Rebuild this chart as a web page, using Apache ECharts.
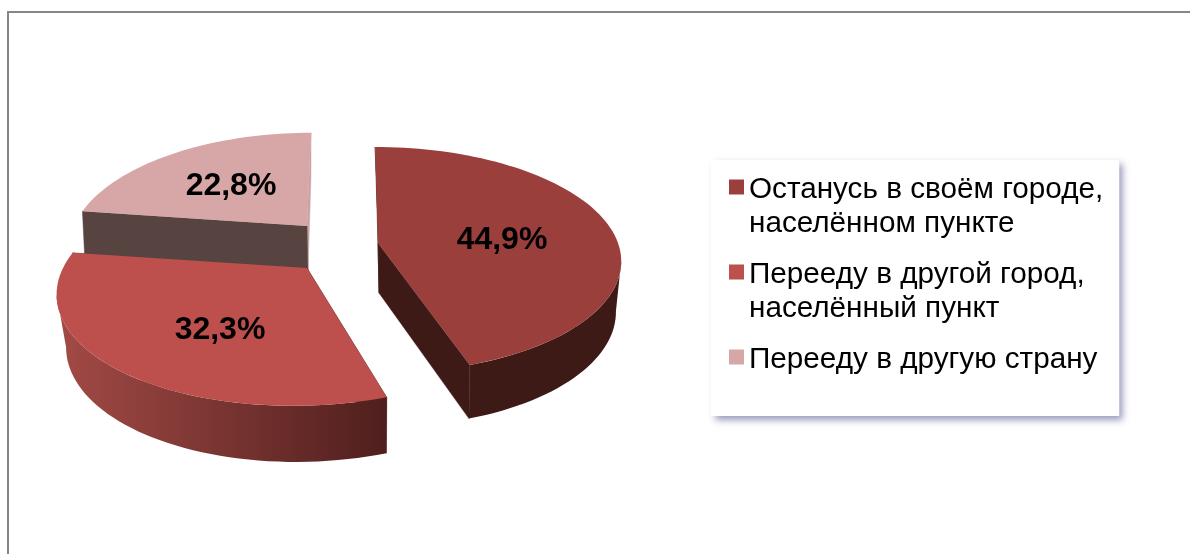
<!DOCTYPE html>
<html>
<head>
<meta charset="utf-8">
<style>html,body{margin:0;padding:0;background:#fff}#chart{width:1190px;height:554px}</style>
<script src="https://cdn.jsdelivr.net/npm/echarts@6/dist/echarts.min.js"></script>
</head>
<body>
<div id="chart"></div>
<script>
// данные
const categories = [
  'Останусь в своём городе,\nнаселённом пункте',
  'Перееду в другой город,\nнаселённый пункт',
  'Перееду в другую страну'
];
const shares = [44.9, 32.3, 22.8];

// цвета срезов
const topColors = ['#9b3f3d', '#bd4f4c', '#d7a7a7'];
const startCutColors = ['#3e1a17', '#4f1f1d', '#574441'];
const endCutColors = ['#3e1a17', '#574441', '#c9a3a2'];
const sideColors = [['#3e1a17', '#3e1a17'], ['#a34a46', '#4f1f1d'], ['#574441', '#574441']];

// раскладка: вершина среза, эллипс, перспектива, толщина, сдвиг подписи
const sliceLayout = [
  { cx: 378, cy: 243, a: 240, b: 110.3, k: 0.149, skew: 0.03, depth: 50, shrink: 0.97, lowDx: 2, labelDx: 124, labelDy: -3 },
  { cx: 307, cy: 268, a: 244, b: 113, k: 0.18, skew: -0.1, depth: 52, shrink: 0.97, lowDx: 2, labelDx: -87, labelDy: 62 },
  { cx: 307, cy: 226, a: 233, b: 110, k: 0.18, skew: -0.043, depth: 46, shrink: 0.99, lowDx: 0, labelDx: -76, labelDy: -40 }
];

const total = shares.reduce((a, b) => a + b, 0);
const toRad = Math.PI / 180;

function project(l, deg, lower) {
  const u = Math.sin(deg * toRad), v = Math.cos(deg * toRad);
  const s = 1 / (1 + l.k * v);
  let x = l.a * u * s, y = -l.b * v * s;
  x += l.skew * y;
  if (lower) { x = x * l.shrink + l.lowDx; y = y * 1.03 + l.depth; }
  return [l.cx + x, l.cy + y];
}

function arc(l, from, to, lower) {
  const pts = [], n = Math.max(2, Math.ceil((to - from) / 2));
  for (let i = 0; i <= n; i++) pts.push(project(l, from + (to - from) * i / n, lower));
  return pts;
}

// видимая (передняя) часть боковой стенки: от крайней правой до крайней левой точки эллипса
function frontRange(l) {
  let right = 0, left = 0, maxX = -Infinity, minX = Infinity;
  for (let t = 0; t < 360; t++) {
    const x = project(l, t, false)[0];
    if (x > maxX) { maxX = x; right = t; }
    if (x < minX) { minX = x; left = t; }
  }
  return [right, left];
}

function makeRender(idx) {
  return function (params, api) {
    const l = sliceLayout[idx];
    const value = api.value(0);
    const before = shares.slice(0, idx).reduce((a, b) => a + b, 0);
    const start = before / total * 360;
    const end = start + value / total * 360;
    const apexTop = [l.cx, l.cy];
    const apexLow = [l.cx + 1, l.cy + l.depth];
    const children = [];

    [[end, endCutColors[idx]], [start, startCutColors[idx]]].forEach(function (cut) {
      children.push({
        type: 'polygon',
        shape: { points: [project(l, cut[0], false), apexTop, apexLow, project(l, cut[0], true)] },
        style: { fill: cut[1], stroke: cut[1], lineWidth: 0.5 }
      });
    });

    const fr = frontRange(l);
    const from = Math.max(start, fr[0]), to = Math.min(end, fr[1]);
    if (to > from) {
      const pts = arc(l, from, to, false).concat(arc(l, from, to, true).reverse());
      children.push({
        type: 'polygon',
        shape: { points: pts },
        style: {
          fill: new echarts.graphic.LinearGradient(1, 0, 0, 0, [
            { offset: 0, color: sideColors[idx][1] },
            { offset: 1, color: sideColors[idx][0] }
          ])
        }
      });
    }

    children.push({
      type: 'polygon',
      shape: { points: [apexTop].concat(arc(l, start, end, false)) },
      style: { fill: topColors[idx] }
    });
    children.push({
      type: 'text',
      style: {
        x: l.cx + l.labelDx,
        y: l.cy + l.labelDy,
        text: String(value).replace('.', ',') + '%',
        font: 'bold 32px "Liberation Sans", Arial, sans-serif',
        fill: '#000',
        align: 'center',
        verticalAlign: 'middle'
      }
    });
    return { type: 'group', children: children };
  };
}

const legendIcon = 'path://M0 6.5H15V21.5H0Z M0 0L0 0 M15 68L15 68';

const myChart = echarts.init(document.getElementById('chart'));
myChart.setOption({
  animation: false,
  backgroundColor: '#fff',
  graphic: [{
    type: 'rect',
    silent: true,
    shape: { x: 8, y: 12, width: 1400, height: 800 },
    style: { fill: 'none', stroke: '#868686', lineWidth: 2 }
  }],
  legend: {
    left: 711,
    top: 160,
    orient: 'vertical',
    selectedMode: false,
    backgroundColor: '#fff',
    padding: [13, 16, 5, 18],
    shadowColor: 'rgba(70,70,130,0.55)',
    shadowBlur: 7,
    shadowOffsetX: 4,
    shadowOffsetY: 4,
    itemWidth: 15,
    itemHeight: 68,
    itemGap: 17,
    icon: legendIcon,
    formatter: function (name) {
      return name.indexOf('\n') < 0 ? name + '\n ' : name;
    },
    textStyle: {
      fontFamily: '"Liberation Sans", Arial, sans-serif',
      fontSize: 29.7,
      lineHeight: 34,
      color: '#000'
    },
    data: categories
  },
  series: categories.map(function (name, i) {
    return {
      type: 'custom',
      name: name,
      coordinateSystem: 'none',
      z: 2 + (categories.length - i),
      silent: true,
      itemStyle: { color: topColors[i] },
      renderItem: makeRender(i),
      data: [[shares[i]]]
    };
  })
});
</script>
</body>
</html>
